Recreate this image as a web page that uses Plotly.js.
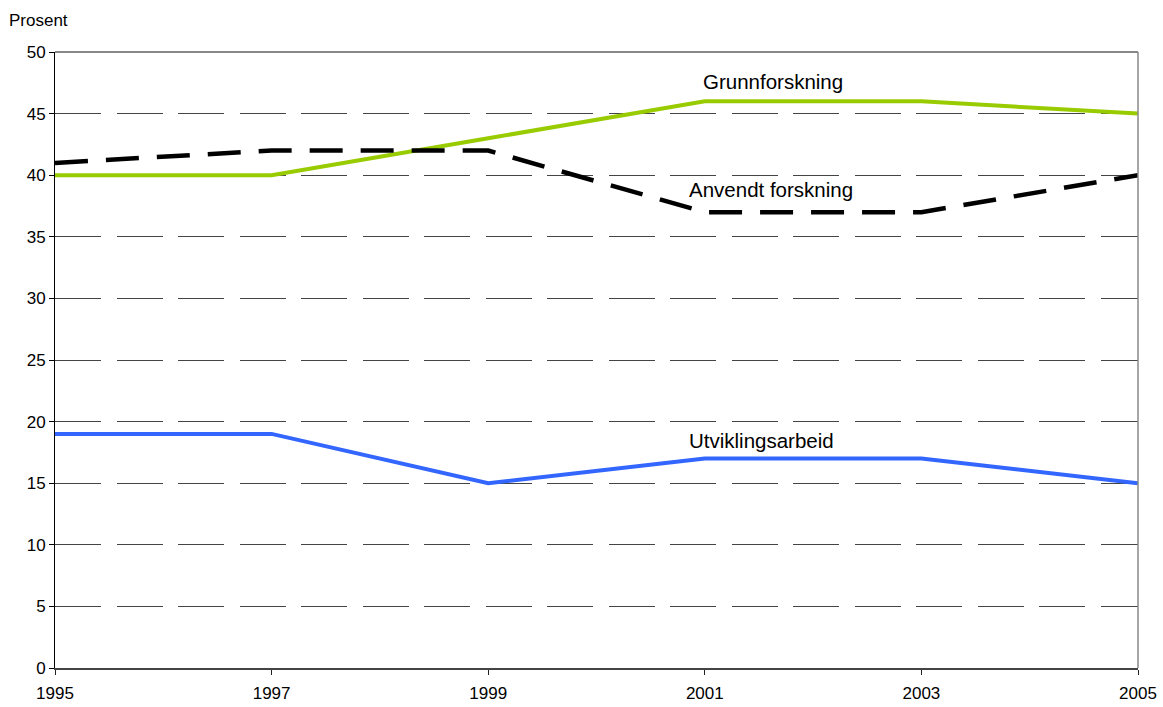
<!DOCTYPE html>
<html><head><meta charset="utf-8">
<script src="https://cdn.plot.ly/plotly-3.0.1.min.js"></script>
<style>html,body{margin:0;padding:0;background:#fff}#chart{width:1163px;height:707px}</style>
</head><body><div id="chart"></div>
<script>
const years = [1995, 1997, 1999, 2001, 2003, 2005];
const grunnforskning = [40, 40, 43, 46, 46, 45];
const anvendtForskning = [41, 42, 42, 37, 37, 40];
const utviklingsarbeid = [19, 19, 15, 17, 17, 15];
const seriesNames = ["Grunnforskning", "Anvendt forskning", "Utviklingsarbeid"];
const labelX = [2001.63, 2001.61, 2001.52];
const labelY = [47.6, 38.8, 18.45];
const yTicks = [0, 5, 10, 15, 20, 25, 30, 35, 40, 45, 50];

const font = "Liberation Sans, Arial, sans-serif";
const traces = [
  {x: years, y: grunnforskning, name: seriesNames[0], mode: "lines", line: {color: "#99CC00", width: 4}},
  {x: years, y: anvendtForskning, name: seriesNames[1], mode: "lines", line: {color: "#000000", width: 4.5, dash: "33px,18px"}},
  {x: years, y: utviklingsarbeid, name: seriesNames[2], mode: "lines", line: {color: "#3366FF", width: 4}}
];
const layout = {
  width: 1163, height: 707,
  margin: {l: 55, r: 25, t: 52, b: 39},
  paper_bgcolor: "#fff", plot_bgcolor: "#fff",
  showlegend: false,
  font: {family: font, size: 17, color: "#000"},
  xaxis: {
    range: [1995, 2005], tickvals: years, ticktext: years.map(String),
    showgrid: false, zeroline: false, showline: true, linecolor: "#444", linewidth: 2,
    ticks: "outside", ticklen: 5, tickcolor: "#222", tickwidth: 1, ticklabelstandoff: 4,
    tickfont: {family: font, size: 17, color: "#000"}
  },
  yaxis: {
    range: [0, 50], tickvals: yTicks, ticktext: yTicks.map(String),
    showgrid: true, gridcolor: "#444", gridwidth: 1, griddash: "46px,15.5px",
    zeroline: false, showline: true, linecolor: "#000", linewidth: 1,
    ticks: "outside", ticklen: 5, tickcolor: "#000",
    tickfont: {family: font, size: 17, color: "#000"}
  },
  shapes: [
    {type: "line", xref: "paper", yref: "paper", x0: 0, x1: 1, y0: 1, y1: 1, line: {color: "#888", width: 2}},
    {type: "line", xref: "paper", yref: "paper", x0: 1, x1: 1, y0: 0, y1: 1, line: {color: "#888", width: 1.5}}
  ],
  annotations: [
    {xref: "paper", yref: "paper", x: -0.044, y: 1.032, xanchor: "left", yanchor: "bottom", text: "Prosent", showarrow: false, font: {family: font, size: 17, color: "#000"}},
    ...seriesNames.map((n, i) => ({x: labelX[i], y: labelY[i], text: n, showarrow: false, xanchor: "center", yanchor: "middle", font: {family: font, size: 20.5, color: "#000"}}))
  ]
};
Plotly.newPlot("chart", traces, layout, {displayModeBar: false, staticPlot: true});
</script></body></html>
